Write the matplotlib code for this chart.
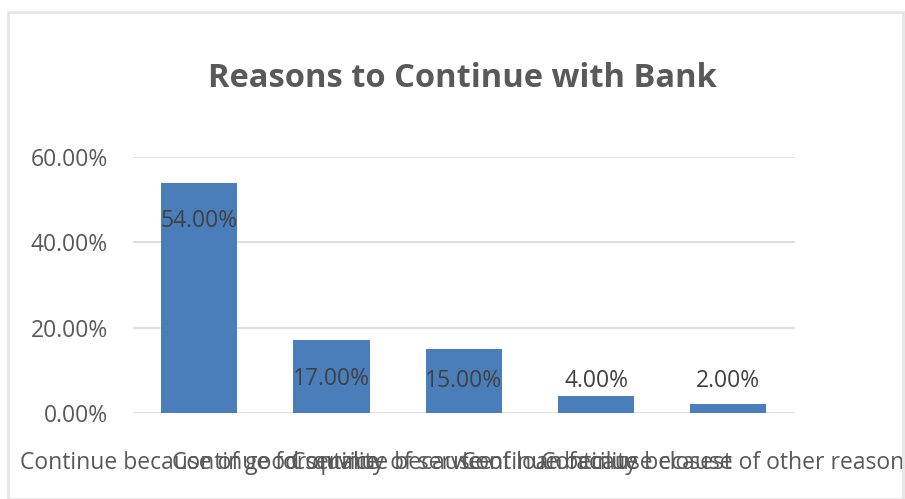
import numpy as np
import matplotlib
matplotlib.use('Agg')
import matplotlib.pyplot as plt
from matplotlib.patches import Rectangle
from matplotlib.ticker import PercentFormatter

plt.rcParams['font.family'] = ['Open Sans', 'DejaVu Sans']

reasons = ['Continue because of good service',
           'Continue for quality of service',
           'Continue because of loan facility',
           'Continue because closest',
           'Continue because of other reasons']
share = [0.54, 0.17, 0.15, 0.04, 0.02]
yticks = [0.0, 0.2, 0.4, 0.6]

bar_blue = '#4a7ebb'
grey_txt = '#595959'

fig = plt.figure(figsize=(9.05, 4.99), dpi=100)
ax = fig.add_axes([0.147, 0.1723, 0.731, 0.5131])

x = np.arange(len(reasons))
ax.bar(x, share, width=0.575, color=bar_blue, zorder=3)

# data labels sit just inside the bar top, but never lower than the floor
for xi, v in zip(x, share):
    ax.text(xi, max(v - 0.09, 0.075), f'{v*100:.2f}%', ha='center', va='center',
            fontsize=16.5, color='#404040', zorder=4)

ax.set_xlim(-0.5, len(reasons) - 0.5)
ax.set_ylim(0, 0.6)
ax.set_yticks(yticks)
ax.yaxis.set_major_formatter(PercentFormatter(1.0, decimals=2))
ax.set_xticks(x)
ax.set_xticklabels(reasons)
ax.tick_params(axis='both', length=0, labelsize=16.5, colors=grey_txt)
ax.tick_params(axis='y', pad=18)
ax.tick_params(axis='x', pad=27)
ax.grid(axis='y', color='#d9d9d9', linewidth=1.2, zorder=0)
for s in ax.spines.values():
    s.set_visible(False)

fig.text(0.511, 0.843, 'Reasons to Continue with Bank', ha='center', va='center',
         fontsize=23.5, fontweight='bold', color=grey_txt)

# light frame around the chart area
fig.patches.append(Rectangle((8 / 905, 0), 895 / 905, 1 - 12 / 499,
                             transform=fig.transFigure, fill=False,
                             edgecolor='#e6e6e6', linewidth=2))

fig.savefig('out.png', dpi=100)
